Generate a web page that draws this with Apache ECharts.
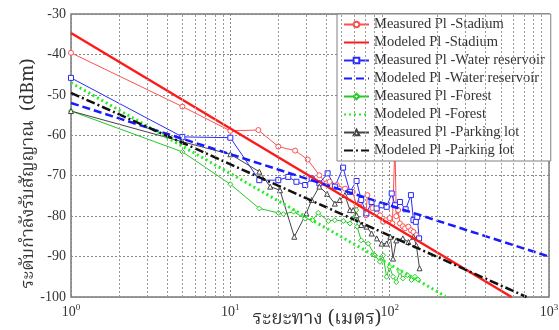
<!DOCTYPE html>
<html><head><meta charset="utf-8">
<script src="https://cdn.jsdelivr.net/npm/echarts@6/dist/echarts.min.js"></script>
<style>html,body{margin:0;padding:0;background:#fff}#c{width:559px;height:330px}</style>
</head><body><div id="c"></div>
<script>
// ---- data ----
const xTicks = [1, 10, 100, 1000];
const minorX = [2,3,4,5,6,7,8,9,20,30,40,50,60,70,80,90,200,300,400,500,600,700,800,900];
const yTicks = [-100, -90, -80, -70, -60, -50, -40, -30];

const stadiumDist = [1, 5, 10, 15, 20, 25.5, 30.6, 36.2, 40, 42, 46.6, 52.4, 58.6, 62, 65, 70.8, 72.5, 78, 83, 87, 91, 94.5, 100, 104, 108, 110, 113, 116, 121, 125, 131, 136, 141, 147];
const stadiumPl   = [-39.6, -52.9, -58.9, -58.7, -62.8, -63.8, -66, -69.9, -71.9, -71.5, -72.3, -73.2, -74, -77.3, -76.5, -79.8, -74.8, -78, -79.3, -79.8, -81.4, -81, -80.5, -81.8, -62, -80, -78.5, -81.8, -82.5, -83, -82.6, -83.5, -83.9, -84.7];

const waterDist = [1, 5, 10, 15.2, 20, 23.1, 26, 29.5, 32.4, 36.2, 40.8, 45.3, 51, 56.3, 62, 66.3, 71.5, 77, 82.9, 89, 95.7, 103, 108, 116, 126, 136, 141, 146, 149, 153];
const waterPl   = [-45.8, -60.4, -60.6, -71.1, -71.1, -70.3, -71.5, -72.3, -70.7, -71.9, -69.4, -72.7, -68, -74, -71.3, -76, -79.3, -76.5, -78.1, -77.3, -77.7, -74.4, -77.3, -76.5, -78.3, -74.8, -81, -81.4, -80.2, -85.5];

const forestDist = [1, 5, 10, 15.2, 20, 21.5, 24.9, 29.5, 32.8, 35.6, 41.2, 45.3, 51.2, 56.3, 61.7, 62.5, 66.3, 73.4, 80.8, 86.9, 91, 95.6, 100, 105, 110, 116, 121, 129, 137, 144, 151];
const forestPl   = [-54, -64.1, -72.1, -78.1, -79.2, -79.5, -78.9, -80.6, -81, -79.2, -81.2, -81, -81.2, -81.8, -78.5, -82.6, -86, -86.8, -89.7, -91.3, -89.7, -95, -92.5, -95, -96.3, -93.8, -95.4, -94.6, -95.8, -95, -95.7];

const parkingDist = [1, 5, 10, 15.2, 17.8, 20.5, 25.2, 30, 32.4, 36.2, 40.5, 45.3, 48.6, 52.4, 56.3, 59, 62, 66.3, 71.5, 77, 82.9, 89, 95.6, 101, 105, 110, 121, 131, 141, 147, 154];
const parkingPl   = [-54, -61.6, -64.7, -69, -72.7, -73.6, -85.1, -79.3, -76, -72.7, -74.5, -76.9, -76, -74.8, -78.5, -78.5, -79.8, -82.2, -82.6, -84.3, -85.5, -86.8, -86.8, -85.1, -90.5, -86, -85.5, -86.4, -85.1, -87.2, -92.9];

// modeled path-loss lines (end points)
const stadiumModelDist = [1, 582];   const stadiumModelPl = [-34.7, -100];
const waterModelDist   = [1, 1000];  const waterModelPl   = [-52, -90];
const forestModelDist  = [1, 224];   const forestModelPl  = [-47, -99.8];
const parkingModelDist = [1, 723];   const parkingModelPl = [-49.5, -100];

const names = ['Measured Pl -Stadium','Modeled Pl -Stadium','Measured Pl -Water reservoir','Modeled Pl -Water reservoir','Measured Pl -Forest','Modeled Pl -Forest','Measured Pl -Parking lot','Modeled Pl -Parking lot'];

const pairs = (a, b) => a.map((d, i) => [d, b[i]]);
const SERIF = '"Liberation Serif", "Times New Roman", serif';
const THAI = '"Noto Serif Thai", "Norasi", "Noto Sans Thai", "Loma", "Garuda", "DejaVu Sans", sans-serif';

function measured(name, d, v, color, symbol, size) {
  return { name, type: 'line', data: pairs(d, v), symbol, symbolSize: size, showSymbol: true,
    lineStyle: { color, width: 1 }, itemStyle: { color: '#fff', borderColor: color, borderWidth: 1 },
    emphasis: { disabled: true }, animation: false, z: 3 };
}
function modeled(name, d, v, color, type, width) {
  return { name, type: 'line', data: pairs(d, v), symbol: 'none', showSymbol: false,
    lineStyle: { color, width, type }, itemStyle: { color }, emphasis: { disabled: true }, animation: false, z: 4 };
}

const legendData = names.map((n, i) => i % 2 === 1
  ? { name: n, itemStyle: { opacity: 0 } }
  : { name: n });

const chart = echarts.init(document.getElementById('c'), null, { renderer: 'canvas' });
chart.setOption({
  backgroundColor: '#fff',
  animation: false,
  grid: { left: 71, right: 10, top: 14, bottom: 33, show: true, borderColor: '#7a7a7a', borderWidth: 1.5,
    containLabel: false, outerBoundsMode: 'none' },
  legend: {
    data: legendData, orient: 'vertical', left: 337, top: 14,
    backgroundColor: '#fff', borderColor: '#808080', borderWidth: 1,
    padding: [3, 6, 3, 6], itemWidth: 25, itemHeight: 7, itemGap: 3,
    textStyle: { fontFamily: SERIF, fontSize: 14.5, color: '#333', lineHeight: 15 }
  },
  xAxis: {
    type: 'log', logBase: 10, min: 1, max: 1000,
    name: 'ระยะทาง (เมตร)', nameLocation: 'middle', nameGap: 14, nameMoveOverlap: false,
    nameTextStyle: { fontFamily: THAI, fontSize: 19, color: '#333', padding: [0, 0, 0, 14] },
    axisLine: { show: false }, axisTick: { show: false },
    splitLine: { show: true, lineStyle: { color: '#888', type: [2, 2], width: 1 } },
    axisLabel: { margin: 6, color: '#333',
      formatter: v => '10{s|' + Math.round(Math.log10(v)) + '}',
      rich: { s: { fontSize: 9, fontFamily: SERIF, color: '#333', padding: [0, 0, 9, 0] } },
      fontFamily: SERIF, fontSize: 14 }
  },
  yAxis: {
    type: 'value', min: -100, max: -30, interval: 10,
    name: 'ระดับกำลังรับสัญญาณ  (dBm)', nameLocation: 'middle', nameGap: 32, nameRotate: 90, nameMoveOverlap: false,
    nameTextStyle: { fontFamily: THAI, fontSize: 18, color: '#333', padding: [0, 36, 0, 0] },
    axisLine: { show: false }, axisTick: { show: false },
    splitLine: { show: true, lineStyle: { color: '#888', type: [2, 2], width: 1 } },
    axisLabel: { margin: 5, color: '#333', fontFamily: SERIF, fontSize: 14 }
  },
  series: [
    { type: 'line', data: [], silent: true, z: 1, animation: false,
      markLine: { silent: true, symbol: 'none', label: { show: false }, animation: false,
        lineStyle: { color: '#999', type: [2, 2], width: 1 },
        data: minorX.map(x => ({ xAxis: x })) } },
    measured(names[0], stadiumDist, stadiumPl, '#ff5050', 'circle', 5),
    modeled(names[1], stadiumModelDist, stadiumModelPl, '#ff1a1a', 'solid', 2.5),
    measured(names[2], waterDist, waterPl, '#2a2aff', 'rect', 5),
    modeled(names[3], waterModelDist, waterModelPl, '#1a1aff', [8, 4], 2.5),
    measured(names[4], forestDist, forestPl, '#22cc22', 'diamond', 5),
    modeled(names[5], forestModelDist, forestModelPl, '#22ee22', [2, 3], 3),
    measured(names[6], parkingDist, parkingPl, '#444', 'triangle', 5),
    modeled(names[7], parkingModelDist, parkingModelPl, '#111', [9, 3, 2, 3], 2.5)
  ]
});
</script></body></html>
